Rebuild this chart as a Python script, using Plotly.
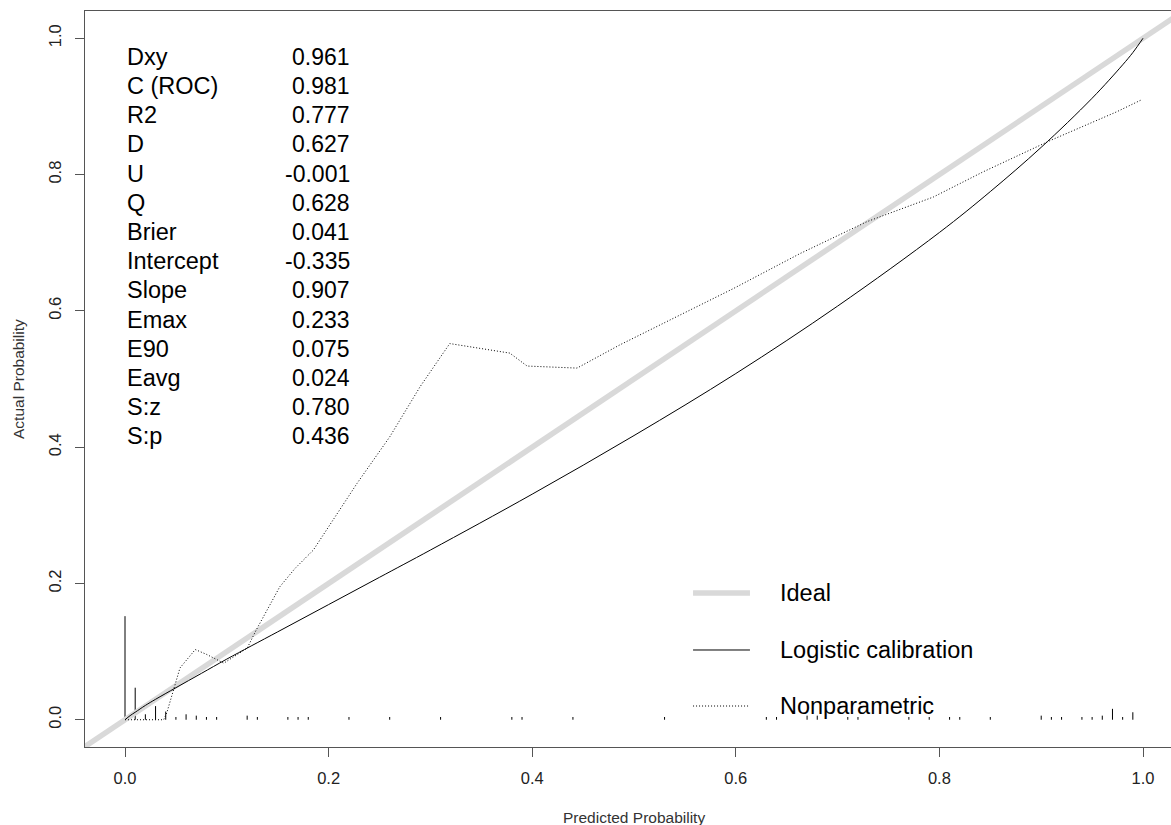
import plotly.graph_objects as go

# ---- data ----
ideal_x = [-0.04, 1.04]
ideal_y = [-0.04, 1.04]

logit_x = [0.0, 0.005, 0.01, 0.02, 0.03, 0.05, 0.075, 0.1, 0.15, 0.2, 0.25, 0.3, 0.4,
           0.5, 0.6, 0.7, 0.8, 0.85, 0.9, 0.95, 0.98, 0.99, 1.0]
logit_y = [0.0, 0.006, 0.011, 0.021, 0.030, 0.047, 0.068, 0.089, 0.129, 0.169, 0.209, 0.249, 0.331,
           0.417, 0.508, 0.607, 0.715, 0.775, 0.840, 0.912, 0.961, 0.979, 1.0]

np_x = [0.0, 0.02, 0.038, 0.041, 0.054, 0.069, 0.08, 0.097, 0.12, 0.129, 0.152, 0.167, 0.185,
        0.228, 0.26, 0.29, 0.319, 0.378, 0.395, 0.444, 0.486, 0.598, 0.663, 0.729, 0.794,
        0.843, 0.909, 0.974, 0.999]
np_y = [0.0, 0.0, 0.0, 0.01, 0.076, 0.103, 0.096, 0.083, 0.105, 0.132, 0.195, 0.222, 0.249,
        0.347, 0.415, 0.489, 0.552, 0.538, 0.519, 0.516, 0.550, 0.633, 0.684, 0.731, 0.767,
        0.804, 0.850, 0.892, 0.910]

rug_x = [0.00, 0.01, 0.02, 0.03, 0.04, 0.05, 0.06, 0.07, 0.08, 0.09, 0.12, 0.13, 0.16, 0.17,
         0.18, 0.22, 0.26, 0.31, 0.38, 0.39, 0.44, 0.53, 0.63, 0.64, 0.67, 0.68, 0.71, 0.72,
         0.77, 0.79, 0.81, 0.82, 0.85, 0.90, 0.91, 0.92, 0.94, 0.95, 0.96, 0.97, 0.98, 0.99]
rug_h = [0.152, 0.047, 0.008, 0.020, 0.012, 0.004, 0.008, 0.006, 0.004, 0.004, 0.006, 0.004,
         0.004, 0.004, 0.004, 0.004, 0.004, 0.004, 0.004, 0.004, 0.004, 0.004, 0.004, 0.004,
         0.006, 0.006, 0.004, 0.004, 0.004, 0.004, 0.004, 0.004, 0.004, 0.006, 0.004, 0.004,
         0.004, 0.004, 0.006, 0.016, 0.004, 0.011]

stat_names = ["Dxy", "C (ROC)", "R2", "D", "U", "Q", "Brier", "Intercept", "Slope",
              "Emax", "E90", "Eavg", "S:z", "S:p"]
stat_values = ["0.961", "0.981", "0.777", "0.627", "-0.001", "0.628", "0.041", "-0.335",
               "0.907", "0.233", "0.075", "0.024", "0.780", "0.436"]

legend_labels = ["Ideal", "Logistic calibration", "Nonparametric"]

tick_vals = [0.0, 0.2, 0.4, 0.6, 0.8, 1.0]
tick_text = ["0.0", "0.2", "0.4", "0.6", "0.8", "1.0"]

FONT = "Liberation Sans, Arial, sans-serif"

fig = go.Figure()

# rug / spike histogram of predicted probabilities
rx, ry = [], []
for xv, hv in zip(rug_x, rug_h):
    rx += [xv, xv, None]
    ry += [0.0, hv, None]
fig.add_trace(go.Scatter(x=rx, y=ry, mode="lines", line=dict(color="black", width=1),
                         showlegend=False, hoverinfo="skip"))

styles = [dict(color="#d9d9d9", width=5.5),
          dict(color="black", width=1),
          dict(color="black", width=1, dash="1px,2px")]

fig.add_trace(go.Scatter(x=ideal_x, y=ideal_y, mode="lines", name=legend_labels[0],
                         line=styles[0], showlegend=False))
fig.add_trace(go.Scatter(x=logit_x, y=logit_y, mode="lines", name=legend_labels[1],
                         line=dict(styles[1], shape="spline"), showlegend=False))
fig.add_trace(go.Scatter(x=np_x, y=np_y, mode="lines", name=legend_labels[2],
                         line=styles[2], showlegend=False))

# statistics block
y0_px = 57.0
row_px = 29.2
ppu_y = 681.5
for i, (nm, val) in enumerate(zip(stat_names, stat_values)):
    yy = (720.0 - (y0_px + row_px * i)) / ppu_y
    fig.add_annotation(x=0.0, y=yy, xref="x", yref="y", text=nm, showarrow=False,
                       xanchor="left", yanchor="middle",
                       font=dict(family=FONT, size=23.5, color="black"))
    fig.add_annotation(x=0.223, y=yy, xref="x", yref="y", text=val, showarrow=False,
                       xanchor="right", yanchor="middle",
                       font=dict(family=FONT, size=23, color="black"))

# legend (drawn like R's legend(): line sample + label)
leg_y = [0.2092, 0.1318, 0.0557]
for lab, st, ly in zip(legend_labels, styles, leg_y):
    fig.add_shape(type="line", xref="paper", yref="paper", x0=0.5599, x1=0.6123,
                  y0=ly, y1=ly, line=st)
    fig.add_annotation(x=0.6381, y=ly, xref="paper", yref="paper", text=lab,
                       showarrow=False, xanchor="left", yanchor="middle",
                       font=dict(family=FONT, size=23.5, color="black"))

# axis titles
fig.add_annotation(x=0.5, y=0, xref="x", yref="paper", yshift=-70, text="Predicted Probability",
                   showarrow=False, xanchor="center", yanchor="middle",
                   font=dict(family=FONT, size=15.5, color="#333333"))
fig.add_annotation(x=0, y=0.5, xref="paper", yref="y", xshift=-67, text="Actual Probability",
                   showarrow=False, textangle=-90, xanchor="center", yanchor="middle",
                   font=dict(family=FONT, size=15.5, color="#333333"))

fig.update_layout(
    width=1171, height=825,
    margin=dict(l=85, r=0, t=11, b=78, autoexpand=False),
    paper_bgcolor="white", plot_bgcolor="white",
    font=dict(family=FONT, size=16.5, color="#222222"),
    showlegend=False,
    xaxis=dict(range=[-0.0393, 1.0275], showgrid=False, zeroline=False, automargin=False,
               showline=True, linecolor="#555555", linewidth=1, mirror=True,
               ticks="outside", ticklen=9, tickcolor="#555555",
               tickvals=tick_vals, ticktext=tick_text, ticklabelstandoff=7,
               tickfont=dict(family=FONT, size=16.5, color="#222222")),
    yaxis=dict(range=[-0.04, 1.04], showgrid=False, zeroline=False, automargin=False,
               showline=True, linecolor="#555555", linewidth=1,
               ticks="outside", ticklen=9, tickcolor="#555555",
               tickvals=tick_vals, ticktext=tick_text, tickangle=-90, ticklabelstandoff=7,
               tickfont=dict(family=FONT, size=16.5, color="#222222")),
)

fig.write_html("out.html", config={"displayModeBar": False},
               post_script="document.body.style.margin='0px';document.body.style.overflow='hidden';")
